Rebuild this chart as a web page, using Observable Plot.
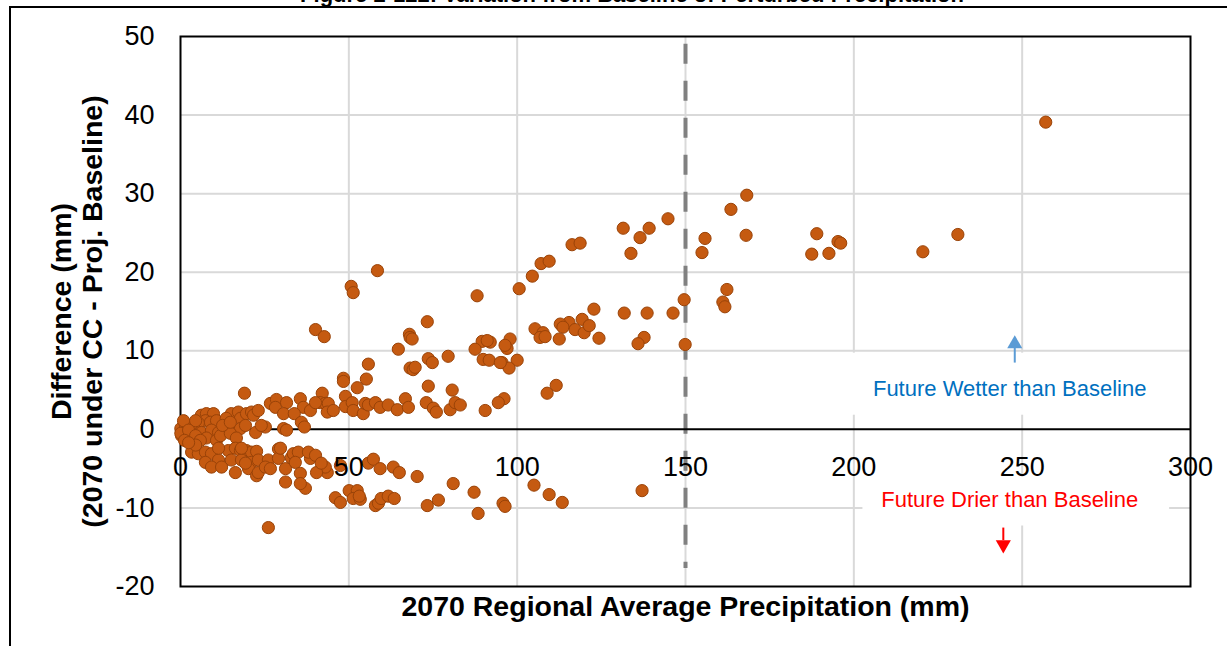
<!DOCTYPE html>
<html>
<head>
<meta charset="utf-8">
<script src="https://cdn.jsdelivr.net/npm/d3@7"></script>
<script src="https://cdn.jsdelivr.net/npm/@observablehq/plot@0.6"></script>
<style>
  body { margin: 0; background: #fff; overflow: hidden; font-family: Arial, "Liberation Sans", sans-serif; }
  #wrap { position: relative; width: 1227px; height: 646px; overflow: hidden; }
  #wrap svg { position: absolute; left: 0; top: 0; }
  #title { position: absolute; left: 0; width: 1264px; top: -16px; text-align: center; font-weight: bold; font-size: 22px; line-height: 22px; color: #000; white-space: nowrap; }
  #border { position: absolute; left: 9px; top: 6px; width: 1300px; height: 700px; border-top: 2px solid #000; border-left: 2px solid #000; }
</style>
</head>
<body>
<div id="wrap">
  <div id="title">Figure 2-122: Variation from Baseline of Perturbed Precipitation</div>
</div>
<script>
// Axis ticks
const xTicks = [0, 50, 100, 150, 200, 250, 300];
const yTicks = [-20, -10, 0, 10, 20, 30, 40, 50];

// [2070 regional average precipitation (mm), difference CC - baseline (mm)]
const regionsAbove140 = [
  [257.0,39.1],[230.9,24.8],[220.5,22.6],[195.3,23.9],[196.1,23.7],[189.0,24.9],[187.5,22.3],[192.6,22.4],
  [168.2,29.8],[168.0,24.7],[163.5,28.0],[155.8,24.3],[154.9,22.5],[162.3,17.8],[161.1,16.2],[161.7,15.6],
  [149.6,16.5],[149.9,10.8],[146.3,14.8],[144.8,26.8],[139.2,25.6],[136.5,24.4],[133.8,22.4],[131.5,25.6],
  [138.6,14.8],[131.8,14.8],[137.7,11.7],[135.9,10.9],[137.1,-7.8]
];
const regions95to135 = [
  [116.3,23.5],[118.7,23.7],[107.1,21.1],[109.5,21.4],[104.5,19.5],[100.6,17.9],[122.8,15.3],[119.3,14.0],
  [115.4,13.6],[112.8,13.4],[113.6,13.0],[105.3,12.8],[107.7,12.3],[106.8,11.7],[108.3,11.8],[117.2,12.7],
  [119.9,12.3],[121.4,13.2],[112.5,11.5],[124.3,11.6],[97.9,11.5],[97.0,10.3],[96.4,10.7],[100.0,8.8],
  [95.5,8.5],[97.6,7.8],[108.9,4.6],[111.6,5.6],[96.1,3.9],[105.0,-7.1],[109.5,-8.3],[113.4,-9.3],
  [95.8,-9.4],[96.4,-9.8],[94.4,3.4]
];
const regions55to95 = [
  [88.1,17.0],[89.6,11.2],[92.0,11.1],[91.1,11.3],[87.5,10.2],[89.9,8.9],[91.7,8.8],[95.0,8.5],
  [73.3,13.7],[68.0,12.1],[68.2,11.7],[68.8,11.5],[64.7,10.2],[79.5,9.3],[73.6,9.0],[74.8,8.5],
  [68.2,7.8],[69.1,7.6],[69.7,7.9],[73.6,5.5],[80.7,5.0],[90.5,2.4],[73.0,3.4],[75.1,2.7],
  [76.0,2.2],[80.1,2.5],[81.6,3.4],[83.1,3.1],[81.0,-6.9],[87.2,-8.0],[88.4,-10.7],[73.3,-9.7],
  [76.6,-9.0],[70.3,-6.0],[63.2,-4.8],[65.0,-5.5],[57.9,-9.7],[58.8,-9.4],[59.6,-8.8],[61.7,-8.5],
  [63.5,-8.8]
];
const regions40to65 = [
  [58.5,20.2],[50.7,18.2],[51.3,17.4],[40.1,12.7],[42.7,11.8],[55.8,8.3],[48.4,6.5],[48.4,6.1],
  [55.2,6.4],[52.5,5.3],[42.1,4.6],[49.0,4.2],[41.5,3.4],[43.0,3.3],[43.9,3.3],[43.6,2.2],
  [45.4,2.4],[49.0,2.9],[51.0,3.4],[51.3,2.4],[54.3,2.0],[54.9,3.3],[55.8,3.1],[57.9,3.4],
  [59.3,2.8],[61.7,3.1],[64.4,2.5],[66.8,3.9],[67.7,2.8],
  [42.1,-4.6],[43.6,-5.5],[43.0,-4.8],[47.5,-4.6],[55.8,-4.3],[57.3,-3.8],[59.3,-5.0],[46.0,-8.7],
  [47.5,-9.3],[50.1,-7.8],[52.5,-7.8],[51.3,-8.8],[53.4,-8.9],[53.1,-8.5]
];
const regionsBelow40 = [
  [35.6,3.9],[36.5,2.8],[38.6,2.4],[40.1,3.4],
  [19.0,4.6],[15.1,2.0],[17.2,2.2],[17.8,1.4],[19.6,2.0],[21.1,2.2],[21.7,1.8],[23.1,2.4],
  [26.7,3.3],[28.5,3.8],[28.2,2.8],[31.5,3.4],[30.6,2.0],[33.8,2.0],
  [6.2,1.8],[7.7,2.0],[9.8,2.0],[7.4,1.1],[8.9,0.9],[10.7,1.1],[5.3,0.8],[3.9,0.3],
  [0.1,0.1],[1.5,0.5],[3.0,0.5],[0.3,-0.8],[1.8,-1.0],[0.1,-0.5],
  [6.2,-0.4],[9.2,-0.1],[11.3,-0.4],[7.7,-1.1],[10.7,-1.4],[11.9,-0.8],
  [16.3,-0.1],[17.8,0.1],[14.8,-0.5],[16.6,-1.1],
  [22.3,-0.4],[25.2,0.3],[24.0,0.5],[30.6,0.1],[31.5,-0.1],[35.9,0.9],[36.8,0.3],
  [0.9,1.1],[4.5,1.1],[2.4,-0.1],[4.5,-0.8],[1.2,-1.4],[5.9,-1.4],[3.9,-2.3],[13.6,1.4],[12.5,0.5],
  [14.8,0.9],[19.3,0.5],
  [3.3,-2.9],[5.3,-3.1],[7.4,-2.9],[9.2,-3.1],[11.3,-3.9],[7.4,-4.2],[9.2,-4.8],[12.2,-4.8],
  [4.5,-2.0],[2.4,-1.7],[14.2,-2.7],[16.3,-2.4],[17.8,-2.7],[19.6,-2.7],[21.1,-2.9],[22.6,-2.8],
  [15.1,-3.9],[18.1,-3.9],[21.1,-4.2],[23.1,-3.9],[26.1,-3.9],[16.3,-5.5],[20.2,-5.0],[22.6,-5.9],
  [23.1,-5.5],[25.2,-4.8],[26.7,-5.0],[29.1,-2.5],[29.1,-3.7],[29.7,-2.4],[32.9,-3.6],[31.2,-5.0],
  [33.5,-3.1],[35.0,-2.9],[34.1,-4.2],[35.6,-5.6],[37.1,-7.5],[35.6,-6.9],[31.2,-6.7],[38.6,-3.7],
  [38.0,-2.9],[40.1,-3.3],[40.4,-5.5],[41.8,-4.3],[26.1,-12.5],[19.3,-4.3],[11.3,-2.4],[18.1,-2.4]
];

// Reference threshold at 150 mm
const threshold = [{x: 150, y1: 49, y2: -17.7}];

// Annotations: label boxes, labels, arrows
const noteBoxes = [
  {x1: 197, x2: 295, y1: 1.8, y2: 9.7},
  {x1: 202.7, x2: 293.8, y1: -12.3, y2: -6.1}
];
const notes = [
  {text: "Future Wetter than Baseline", x: 246.3, y: 5.2, color: "#0070C0"},
  {text: "Future Drier than Baseline", x: 246.3, y: -9.0, color: "#FF0000"}
];
const arrows = [
  {x: 247.8, y1: 8.5, y2: 10.4, head: 10.87, color: "#5B9BD5", rotate: 0},
  {x: 244.4, y1: -12.5, y2: -14.1, head: -14.68, color: "#FF0000", rotate: 180}
];

const points = [...regionsAbove140, ...regions95to135, ...regions55to95, ...regions40to65, ...regionsBelow40]
  .map(([precip, diff]) => ({precip, diff}));

const font = 'Arial, "Liberation Sans", sans-serif';
const gridStyle = {stroke: "#D9D9D9", strokeOpacity: 1, strokeWidth: 2};
const titleStyle = {fontSize: 28.5, fontWeight: "bold", textAnchor: "middle", lineAnchor: "middle"};

const chart = Plot.plot({
  width: 1227,
  height: 646,
  marginLeft: 180,
  marginRight: 37,
  marginTop: 36,
  marginBottom: 60,
  style: {fontFamily: font, background: "transparent", color: "#000", overflow: "visible"},
  x: {domain: [0, 300], axis: null},
  y: {domain: [-20, 50], axis: null},
  marks: [
    Plot.gridX(xTicks.filter(d => d > 0 && d < 300), gridStyle),
    Plot.gridY(yTicks.filter(d => d !== 0 && d > -20 && d < 50), gridStyle),
    Plot.rect(noteBoxes, {x1: "x1", x2: "x2", y1: "y1", y2: "y2", fill: "white"}),
    Plot.ruleX(threshold, {x: "x", y1: "y1", y2: "y2", stroke: "#808080", strokeWidth: 4, strokeDasharray: "20 17"}),
    Plot.ruleY([0], {stroke: "#000", strokeWidth: 2}),
    Plot.frame({stroke: "#000", strokeWidth: 2}),
    Plot.dot(points, {x: "precip", y: "diff", r: 6.1, fill: "#C55A11", stroke: "#9A4308", strokeWidth: 1}),
    Plot.text(notes, {x: "x", y: "y", text: "text", fill: "color", fontSize: 22}),
    Plot.link(arrows, {x1: "x", x2: "x", y1: "y1", y2: "y2", stroke: "color", strokeWidth: 2}),
    Plot.dot(arrows, {x: "x", y: "head", symbol: "triangle", r: 5.6, fill: "color", stroke: null, rotate: "rotate"}),
    Plot.axisY(yTicks, {tickSize: 0, tickPadding: 26, fontSize: 27, tickFormat: d => String(d), label: null}),
    Plot.text(xTicks, {x: d => d, y: 0, dy: 38, text: d => String(d), fontSize: 27}),
    Plot.text(["2070 Regional Average Precipitation (mm)"], {frameAnchor: "bottom", dy: 20, ...titleStyle}),
    Plot.text(["Difference (mm)"], {frameAnchor: "left", dx: -119, rotate: -90, ...titleStyle}),
    Plot.text(["(2070 under CC - Proj. Baseline)"], {frameAnchor: "left", dx: -88, rotate: -90, ...titleStyle})
  ]
});

const wrap = document.getElementById("wrap");
wrap.appendChild(chart);
const border = document.createElement("div");
border.id = "border";
wrap.appendChild(border);
</script>
</body>
</html>
